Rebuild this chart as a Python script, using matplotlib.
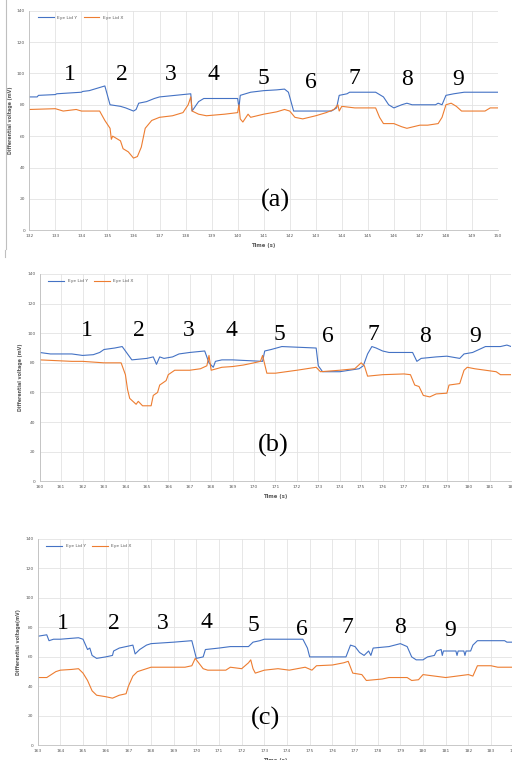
import matplotlib
matplotlib.use("Agg")
import matplotlib.pyplot as plt
from matplotlib.lines import Line2D

# ---- panel (a) ----
a_ty = [132, 132.3, 132.35, 133, 133.05, 134, 134.05, 134.3, 134.9, 135.1, 135.5, 135.7, 136, 136.1,
        136.2, 136.5, 136.8, 137, 137.6, 138.2, 138.25, 138.5, 138.7, 140, 140.05, 140.1, 140.5,
        141, 141.5, 141.8, 141.95, 142.15, 143, 143.6, 143.8, 143.9, 144.2, 144.3, 145.3, 145.6,
        145.8, 146, 146.3, 146.5, 146.7, 147.6, 147.7, 147.85, 148, 148.3, 148.7, 150]
a_y = [85, 85, 86, 86.5, 87, 88, 88.5, 89, 92, 80, 79, 78, 76, 77,
       81, 82, 84, 85, 86, 87, 76, 82, 84, 84, 78, 86, 88,
       89, 89.5, 90, 88, 76, 76, 76, 78, 86, 87, 88, 88, 85,
       80, 78, 80, 81, 80, 80, 81, 80, 86, 87, 88, 88]
a_tx = [132, 133, 133.3, 133.8, 134, 134.7, 134.9, 135.1, 135.15, 135.2, 135.5, 135.6, 135.8, 136,
        136.15, 136.3, 136.45, 136.7, 137, 137.5, 137.9, 138.1, 138.2, 138.25, 138.5, 138.8, 139.5,
        140, 140.05, 140.1, 140.2, 140.4, 140.5, 141, 141.5, 141.8, 142, 142.2, 142.5, 143, 143.4,
        143.7, 143.85, 143.9, 144, 144.5, 145.3, 145.45, 145.6, 146, 146.3, 146.5, 147, 147.3,
        147.7, 147.85, 148, 148.2, 148.4, 148.6, 149.5, 149.7, 150]
a_x = [77, 77.5, 76, 77, 76, 76, 70, 65, 58, 60, 57, 52, 50, 46,
       47, 53, 65, 70, 72, 73, 75, 80, 85, 76, 74, 73, 74,
       75, 80, 71, 69, 74, 72, 74, 75.5, 77, 76, 72, 71, 73, 75,
       77, 80, 76, 79, 78, 78, 72, 68, 68, 66, 65, 67, 67,
       68, 72, 80, 81, 79, 76, 76, 78, 78]

# ---- panel (b) ----
b_ty = [160, 160.5, 161.5, 162, 162.5, 162.8, 163, 163.5, 163.85, 164.1, 164.3, 165, 165.3, 165.45,
        165.6, 165.8, 166.2, 166.5, 167, 167.7, 167.9, 168.1, 168.2, 168.5, 169, 170.4, 170.5,
        170.8, 171.3, 172.9, 173, 173.2, 174, 174.9, 175.1, 175.3, 175.5, 175.7, 176, 176.3,
        177.4, 177.6, 177.8, 178.5, 179, 179.6, 179.8, 180.2, 180.5, 180.8, 181.5, 181.8, 182]
b_y = [87, 86, 86, 85, 85.5, 87, 89, 90, 91, 86, 82, 83, 84, 79,
       84, 83, 84, 86, 87, 88, 80, 77, 81, 82, 82, 81, 88,
       89, 91, 90, 78, 74, 74, 76, 78, 86, 91, 90, 88, 87,
       87, 81, 83, 84, 84.5, 83, 86, 87, 89, 91, 91, 92, 91]
b_tx = [160, 161.5, 162, 163, 163.8, 164, 164.1, 164.2, 164.5, 164.6, 164.8, 165.2, 165.3, 165.5,
        165.6, 165.9, 166, 166.3, 167, 167.5, 167.8, 167.9, 168, 168.5, 169, 169.5, 170, 170.3,
        170.4, 170.6, 171, 172, 172.9, 173.1, 174, 174.7, 175, 175.15, 175.3, 176, 177, 177.3,
        177.5, 177.7, 177.9, 178.2, 178.5, 179, 179.1, 179.6, 179.8, 179.95, 180.3, 180.8, 181.3,
        181.5, 182]
b_x = [82, 81, 81, 80, 80, 72, 62, 56, 52, 54, 51, 51, 58, 60,
       65, 68, 72, 75, 75, 76, 78, 85, 75, 77, 77.5, 78.5, 80, 81,
       85, 73, 73, 75, 77, 74, 75, 76, 80, 78, 71, 72, 72.5, 72,
       65, 64, 58, 57, 59, 59.5, 65, 66, 75, 77, 76, 75, 74,
       72, 72]

# ---- panel (c) ----
c_ty = [163, 163.4, 163.5, 163.7, 164, 164.8, 165, 165.2, 165.3, 165.4, 165.6, 166, 166.3, 166.35,
        166.6, 166.9, 167.2, 167.3, 167.5, 167.8, 168, 169, 169.8, 170, 170.3, 170.4, 171, 171.5,
        172.3, 172.5, 172.8, 173, 174.7, 174.9, 175, 175.5, 176.6, 176.8, 177, 177.2, 177.4,
        177.6, 177.7, 177.8, 178.5, 179, 179.3, 179.5, 179.7, 180, 180.2, 180.5, 180.6, 180.8,
        180.85, 180.9, 181.1, 181.45, 181.5, 181.55, 181.8, 181.85, 181.9, 182.1, 182.2, 182.4,
        183.6, 183.7, 184]
c_y = [74, 75, 71, 72, 72, 73, 72, 65, 66, 61, 59, 60, 61, 64,
       66, 67, 68, 62, 65, 68, 69, 70, 71, 59, 60, 65, 66, 67,
       67, 70, 71, 72, 72, 66, 60, 60, 60, 68, 67, 63, 61,
       64, 61, 66, 67, 69, 67, 60, 58, 58, 60, 61, 64, 65,
       61, 64, 64, 64, 61, 64, 64, 61, 64, 64, 68, 71,
       71, 70, 70]
c_tx = [163, 163.4, 163.6, 163.8, 164, 164.5, 164.8, 165, 165.2, 165.4, 165.6, 166, 166.3, 166.6,
        166.9, 167, 167.2, 167.4, 167.8, 168, 169.5, 169.8, 169.95, 170.1, 170.3, 170.5, 171.3,
        171.5, 172, 172.3, 172.4, 172.5, 172.6, 173, 173.6, 174.1, 174.8, 175.1, 175.3, 176,
        176.5, 176.7, 176.9, 177.3, 177.5, 178.2, 178.5, 179.3, 179.5, 179.8, 180, 180.5, 181,
        181.5, 182, 182.2, 182.4, 183, 183.3, 184]
c_x = [46, 46, 48, 50, 51, 51.5, 52, 49, 44, 37, 34, 33, 32, 34,
       35, 40, 47, 50, 52, 53, 53, 54, 59, 56, 52, 51, 51,
       53, 52, 56, 58, 52, 49, 51, 52, 51, 53, 51, 54, 54.5,
       56, 57, 49, 48, 44, 45, 46, 46, 44, 44.5, 48, 47, 46,
       47, 48, 47, 54, 54, 53, 53]

# blink numbers and panel tags
a_num_t = [133.56, 135.54, 137.42, 139.06, 140.98, 142.8, 144.5, 146.5, 148.46]
a_num_v = [99, 99, 99, 99, 97, 94, 97, 96, 96]
b_num_t = [162.22, 164.63, 166.94, 168.93, 171.21, 173.47, 175.57, 177.98, 180.31]
b_num_v = [101.7, 102, 102, 102, 98.8, 97.7, 98.8, 98, 98]
c_num_t = [164.09, 166.34, 168.51, 170.43, 172.54, 174.65, 176.68, 178.99, 181.19]
c_num_v = [82.8, 82.8, 82.8, 83.2, 81, 78.3, 80, 80, 78]

blue = '#4472C4'
orange = '#ED7D31'
tickc = '#595959'

fig = plt.figure(figsize=(5.12, 7.6), dpi=100)


def panel(rect, ty, y, tx, x, xmin, xmax, num_t, num_v, tag, tag_t, tag_v, ylab):
    ax = fig.add_axes(rect)
    ax.plot(ty, y, color=blue, lw=0.8, label='Eye Lid Y')
    ax.plot(tx, x, color=orange, lw=0.8, label='Eye Lid X')
    ax.set_xlim(xmin, xmax)
    ax.set_ylim(0, 140)
    ax.set_xticks(range(xmin, xmax + 1))
    ax.set_yticks(range(0, 141, 20))
    ax.grid(True, color='#E3E3E3', lw=0.6)
    ax.set_axisbelow(True)
    for s in ['top', 'right']:
        ax.spines[s].set_visible(False)
    for s in ['left', 'bottom']:
        ax.spines[s].set_color('#BFBFBF')
        ax.spines[s].set_linewidth(0.6)
    ax.tick_params(length=0, labelsize=3.2, labelcolor=tickc, pad=3)
    ax.set_xlabel('Time (s)', fontsize=3.8, color=tickc, fontweight='bold', labelpad=3)
    ax.set_ylabel(ylab, fontsize=3.4, color=tickc, fontweight='bold', labelpad=3)
    leg = ax.legend(loc='upper left', ncol=2, frameon=False, fontsize=3.2,
                    handlelength=3.5, columnspacing=1.5, bbox_to_anchor=(0.01, 0.995))
    for t in leg.get_texts():
        t.set_color(tickc)
    for n, (t, v) in enumerate(zip(num_t, num_v)):
        ax.text(t, v, str(n + 1), fontsize=17, family='Liberation Serif',
                ha='center', va='center')
    ax.text(tag_t, tag_v, tag, fontsize=19, family='Liberation Serif',
            ha='center', va='center')
    return ax


panel([0.0573, 0.6970, 0.9154, 0.2890], a_ty, a_y, a_tx, a_x, 132, 150,
      a_num_t, a_num_v, '(a)', 141.46, 19.3, 'Differential voltage (mV)')
panel([0.0775, 0.3667, 0.9209, 0.2728], b_ty, b_y, b_tx, b_x, 160, 182,
      b_num_t, b_num_v, '(b)', 170.9, 24.5, 'Differential voltage (mV)')
panel([0.0736, 0.0193, 0.9297, 0.2715], c_ty, c_y, c_tx, c_x, 163, 184,
      c_num_t, c_num_v, '(c)', 173.07, 18.3, 'Differential voltage(mV)')

# frame edge left of panel (a)
fig.add_artist(Line2D([0.012, 0.012], [0.673, 1.0], color='#BFBFBF', lw=0.8))
fig.add_artist(Line2D([0.010, 0.010], [0.662, 0.671], color='#BFBFBF', lw=0.8))

fig.savefig('out.png', dpi=100)
